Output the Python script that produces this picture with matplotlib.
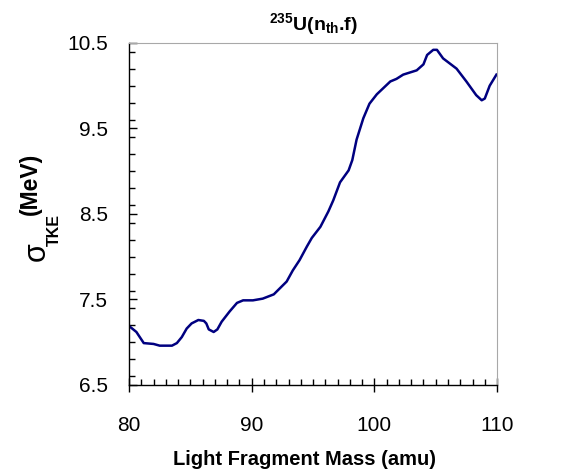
import matplotlib
matplotlib.use("Agg")
import matplotlib.pyplot as plt
from matplotlib.ticker import MultipleLocator

# light fragment mass (amu) and sigma_TKE (MeV)
mass = [80.0, 80.6, 81.2, 82.0, 82.5, 83.5, 83.9, 84.3, 84.7, 85.1,
        85.65, 86.1, 86.3, 86.5, 86.9, 87.2, 87.55, 88.2, 88.8, 89.3,
        90.1, 90.9, 91.8, 92.85, 93.35, 93.9, 94.5, 94.9, 95.6, 96.25,
        96.65, 97.2, 97.9, 98.2, 98.55, 99.1, 99.6, 100.2, 101.3, 101.8,
        102.35, 103.45, 104.0, 104.3, 104.8, 105.1, 105.6, 106.7, 107.5, 108.3,
        108.75, 109.0, 109.4, 109.95]
sigma_tke = [7.19, 7.12, 6.99, 6.98, 6.96, 6.96, 6.99, 7.06, 7.16, 7.22,
             7.26, 7.25, 7.22, 7.15, 7.12, 7.15, 7.24, 7.36, 7.46, 7.49,
             7.49, 7.51, 7.56, 7.71, 7.84, 7.96, 8.12, 8.22, 8.35, 8.53,
             8.66, 8.87, 9.01, 9.13, 9.37, 9.62, 9.79, 9.90, 10.05, 10.08,
             10.13, 10.18, 10.25, 10.36, 10.42, 10.42, 10.32, 10.20, 10.05, 9.89,
             9.83, 9.85, 10.00, 10.13]

xticks = [80, 90, 100, 110]
yticks = [6.5, 7.5, 8.5, 9.5, 10.5]

plt.rcParams['font.family'] = ['Liberation Sans', 'DejaVu Sans']
plt.rcParams['mathtext.fontset'] = 'custom'
plt.rcParams['mathtext.rm'] = 'Liberation Sans'
plt.rcParams['mathtext.it'] = 'Liberation Sans:italic'
plt.rcParams['mathtext.bf'] = 'Liberation Sans:bold'

fig = plt.figure(figsize=(5.61, 4.75), dpi=100)
ax = fig.add_axes([0.23, 0.1895, 0.656, 0.72])

ax.plot(mass, sigma_tke, color='#000080', lw=1.8, solid_joinstyle='round')

ax.set_xlim(80, 110)
ax.set_ylim(6.5, 10.5)
ax.set_xticks(xticks)
ax.set_yticks(yticks)
ax.set_yticklabels([str(t) for t in yticks])
ax.xaxis.set_minor_locator(MultipleLocator(1))
ax.yaxis.set_minor_locator(MultipleLocator(0.2))

for s in ['top', 'right']:
    ax.spines[s].set_color('#a8a8a8')
for s in ['left', 'bottom']:
    ax.spines[s].set_color('black')
    ax.spines[s].set_linewidth(1.0)

ax.tick_params(axis='x', which='major', direction='inout', length=10, width=1,
               labelsize=15, pad=17)
ax.tick_params(axis='x', which='minor', direction='in', length=4.5, width=1)
ax.tick_params(axis='y', which='major', direction='in', length=5.5, width=1,
               labelsize=15, pad=15)
ax.tick_params(axis='y', which='minor', direction='in', length=4.3, width=1)

ax.set_title(r'$^{\mathbf{235}}$U(n$_{\mathbf{th}}$.f)', fontsize=14,
             fontweight='bold', pad=9)
ax.set_xlabel('Light Fragment Mass (amu)', fontsize=14.5, fontweight='bold')
ax.xaxis.set_label_coords(0.478, -0.19)

# y label: "(MeV)" as the axis label, sigma and its TKE subscript set lower
ax.set_ylabel('(MeV)', fontsize=16.5, fontweight='bold')
ax.yaxis.set_label_coords(-0.236, 0.588)
fig.text(37 / 561, 1 - 252 / 475, '\u03c3', rotation=90, fontsize=22,
         ha='center', va='center')
fig.text(54 / 561, 1 - 230 / 475, 'TKE', rotation=90, fontsize=11.5,
         fontweight='bold', ha='center', va='center')

fig.savefig('out.png', dpi=100)
